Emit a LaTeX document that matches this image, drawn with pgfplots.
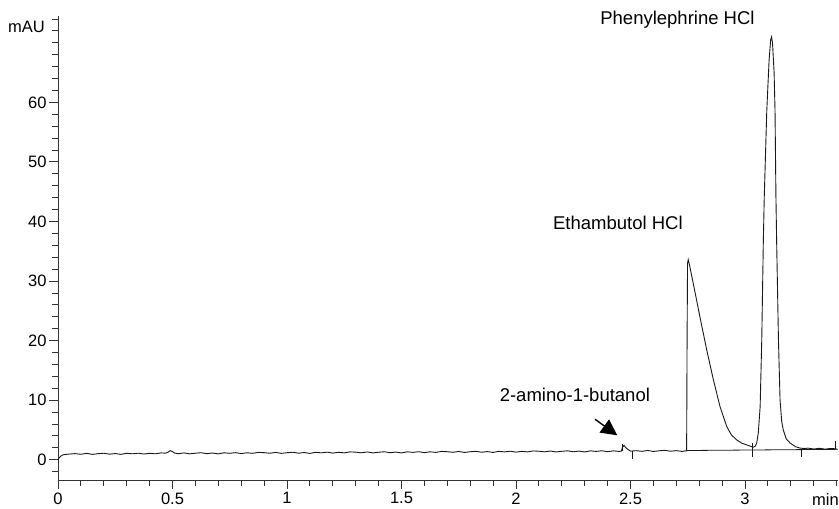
\documentclass[border=0pt]{standalone}
\usepackage{fontspec}
\setmainfont{Liberation Sans}
\usepackage{pgfplots}
\pgfplotsset{compat=1.18}
\usetikzlibrary{arrows.meta}
\begin{document}
\begin{tikzpicture}
\useasboundingbox (-58pt,-29pt) rectangle (781pt,480pt);
\begin{axis}[
  at={(0,0)}, anchor=south west,
  width=780pt, height=464pt, scale only axis,
  xmin=0, xmax=3.406, ymin=-3.4, ymax=74.5,
  axis x line*=bottom, axis y line*=left,
  axis line style={-, line width=0.9pt, color=black!80},
  tick style={line width=0.9pt, color=black!80},
  tick align=outside,
  major tick length=9pt, minor tick length=6pt,
  xtick={0,0.5,1,1.5,2,2.5,3},
  xticklabels={0,0.5,1,1.5,2,2.5,3},
  minor xtick={0.1,0.2,0.3,0.4,0.6,0.7,0.8,0.9,1.1,1.2,1.3,1.4,1.6,1.7,1.8,1.9,2.1,2.2,2.3,2.4,2.6,2.7,2.8,2.9,3.1,3.2,3.3,3.4},
  ytick={0,10,20,30,40,50,60},
  minor ytick={-2,2,4,6,8,12,14,16,18,22,24,26,28,32,34,36,38,42,44,46,48,52,54,56,58,62,64,66,68,70,72,74},
  tick label style={font=\fontsize{16.5}{19}\selectfont},
  yticklabel style={xshift=1pt},
  /pgf/number format/assume math mode=true,
  clip=false,
]
\addplot[black!90, line width=0.9pt] coordinates {
(0,0) (0.005,0.3) (0.012,0.6) (0.02,0.8) (0.03,0.88) (0.05,0.96)
(0.075,1.03) (0.100,0.92) (0.125,1.07) (0.150,0.90) (0.175,1.02) (0.200,1.09)
(0.225,0.94) (0.250,1.04) (0.275,0.91) (0.300,1.08) (0.325,1.00) (0.350,1.10)
(0.375,0.96) (0.400,1.08) (0.425,1.00) (0.450,1.15) (0.470,1.10) (0.480,1.25)
(0.490,1.55) (0.500,1.35) (0.510,1.12) (0.525,1.01) (0.550,1.15) (0.575,0.99)
(0.600,1.10) (0.625,1.18) (0.650,1.02) (0.675,1.13) (0.700,0.99) (0.725,1.17)
(0.750,1.08) (0.775,1.19) (0.800,1.04) (0.825,1.17) (0.850,1.08) (0.875,1.24)
(0.900,1.19) (0.925,1.09) (0.950,1.23) (0.975,1.07) (1.000,1.18) (1.025,1.26)
(1.050,1.10) (1.075,1.21) (1.100,1.07) (1.125,1.25) (1.150,1.16) (1.175,1.27)
(1.200,1.12) (1.225,1.25) (1.250,1.16) (1.275,1.32) (1.300,1.27) (1.325,1.17)
(1.350,1.31) (1.375,1.15) (1.400,1.26) (1.425,1.34) (1.450,1.18) (1.475,1.29)
(1.500,1.15) (1.525,1.33) (1.550,1.24) (1.575,1.35) (1.600,1.20) (1.625,1.33)
(1.650,1.24) (1.675,1.40) (1.700,1.35) (1.725,1.25) (1.750,1.39) (1.775,1.23)
(1.800,1.34) (1.825,1.42) (1.850,1.26) (1.875,1.37) (1.900,1.23) (1.925,1.41)
(1.950,1.32) (1.975,1.43) (2.000,1.28) (2.025,1.41) (2.050,1.32) (2.075,1.48)
(2.100,1.43) (2.125,1.33) (2.150,1.47) (2.175,1.31) (2.200,1.42) (2.225,1.50)
(2.250,1.34) (2.275,1.45) (2.300,1.31) (2.325,1.49) (2.350,1.40) (2.375,1.51)
(2.400,1.36) (2.425,1.49) (2.450,1.40) (2.460,1.45) (2.465,2.1) (2.472,2.4)
(2.480,2.0) (2.490,1.7) (2.500,1.45) (2.525,1.52) (2.550,1.41) (2.575,1.56)
(2.600,1.39) (2.625,1.51) (2.650,1.58) (2.675,1.43) (2.700,1.53) (2.725,1.40)
(2.740,1.50) (2.745,1.50) (2.747,20) (2.749,33.0) (2.752,33.6) (2.758,32.6)
(2.774,29.6) (2.803,24.0) (2.833,18.4) (2.862,13.4) (2.891,8.9) (2.920,5.6)
(2.940,4.2) (2.963,3.35) (2.985,2.8) (3.007,2.5) (3.036,2.1) (3.045,2.3)
(3.051,2.8) (3.058,4.5) (3.066,8.9) (3.073,20) (3.080,36.8) (3.084,44.1)
(3.095,58.6) (3.105,67) (3.112,70.5) (3.116,71) (3.120,70) (3.127,65)
(3.131,58.6) (3.135,44.1) (3.138,36.8) (3.146,20.1) (3.153,10) (3.160,6.5)
(3.167,5) (3.180,3.5) (3.197,2.8) (3.220,2.2) (3.240,1.96) (3.260,1.88)
(3.275,1.95) (3.300,1.80) (3.325,1.92) (3.350,1.78) (3.375,1.90) (3.400,1.82)
};
% integration baseline and event marks
\draw[black!90, line width=0.8pt] (axis cs:2.745,1.55) -- (axis cs:3.405,1.75);
\draw[black!90, line width=0.7pt] (axis cs:2.463,1.5) -- (axis cs:2.463,2.7);
\draw[black!90, line width=0.7pt] (axis cs:2.509,1.5) -- (axis cs:2.509,0.1);
\draw[black!90, line width=0.7pt] (axis cs:2.742,1.5) -- (axis cs:2.742,2.6);
\draw[black!90, line width=0.7pt] (axis cs:3.033,0.5) -- (axis cs:3.033,2.8);
\draw[black!90, line width=0.7pt] (axis cs:3.247,1.8) -- (axis cs:3.247,0.4);
\draw[black!90, line width=0.7pt] (axis cs:3.393,1.8) -- (axis cs:3.393,3.2);
% labels
\node[anchor=east, inner sep=0pt, font=\fontsize{16.5}{19}\selectfont] at (axis cs:0,72.6) [xshift=-13pt] {mAU};
\node[anchor=base east, inner sep=0pt, font=\fontsize{16.5}{19}\selectfont] at (rel axis cs:1,0) [yshift=-26pt, xshift=1pt] {min};
\node[anchor=base, inner sep=0pt, font=\fontsize{18.5}{22}\selectfont] at (axis cs:2.705,73.0) {Phenylephrine HCl};
\node[anchor=base, inner sep=0pt, font=\fontsize{18.5}{22}\selectfont] at (axis cs:2.445,38.7) {Ethambutol HCl};
\node[anchor=base, inner sep=0pt, font=\fontsize{18.5}{22}\selectfont] at (axis cs:2.257,9.77) {2-amino-1-butanol};
\draw[line width=1.4pt, -{Triangle[length=16pt,width=16pt]}] (axis cs:2.345,6.8) -- (axis cs:2.442,4.1);
\end{axis}
\end{tikzpicture}
\end{document}
